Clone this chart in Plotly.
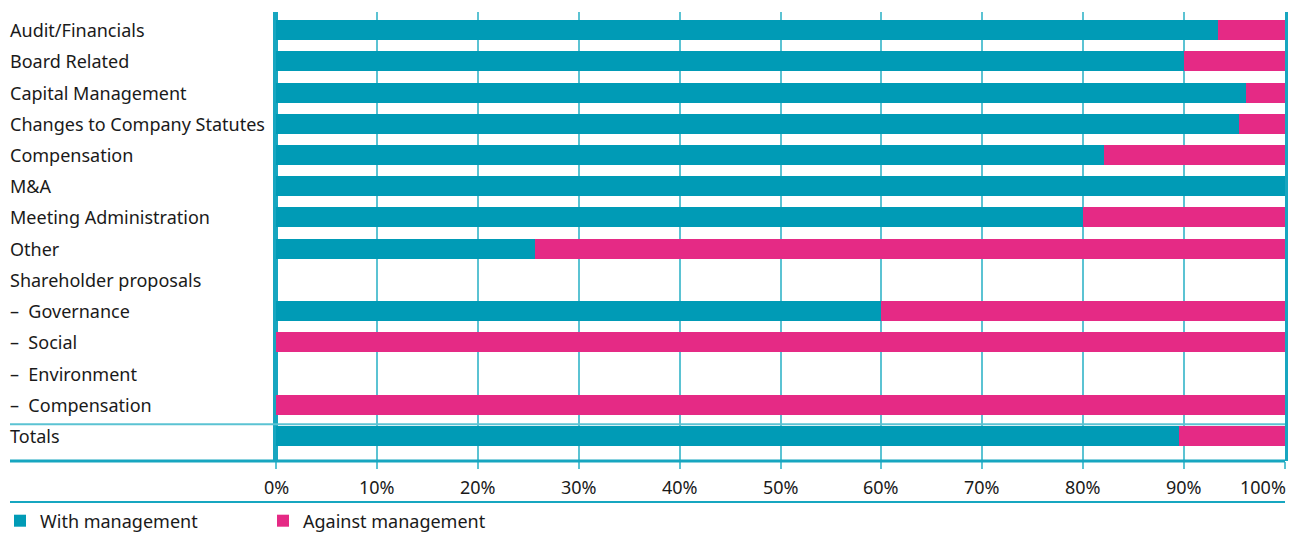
import plotly.graph_objects as go

categories = [
    "Audit/Financials", "Board Related", "Capital Management",
    "Changes to Company Statutes", "Compensation", "M&A",
    "Meeting Administration", "Other", "Shareholder proposals",
    "–  Governance", "–  Social", "–  Environment", "–  Compensation", "Totals",
]
with_mgmt = [93.4, 90.0, 96.1, 95.4, 82.1, 100.0, 80.0, 25.7, None, 60.0, 0.0, None, 0.0, 89.5]
against_mgmt = [6.6, 10.0, 3.9, 4.6, 17.9, 0.0, 20.0, 74.3, None, 40.0, 100.0, None, 100.0, 10.5]
tick_vals = [0, 10, 20, 30, 40, 50, 60, 70, 80, 90, 100]
tick_text = ["0%", "10%", "20%", "30%", "40%", "50%", "60%", "70%", "80%", "90%", "100%"]

TEAL = "#009BB6"
PINK = "#E52A85"
GRID = "#5BC3D3"
AXIS = "#17A6C0"
TXT = "#1a1a1a"
FONT = "Noto Sans"

W, H = 1291, 533
ML, MR, MT, MB = 276, 6, 12, 72
PW = W - ML - MR
PH = H - MT - MB
left_paper = -(ML - 10) / PW

def py(px):
    return -(px - (MT + PH)) / PH

fig = go.Figure()
fig.add_trace(go.Bar(y=categories, x=with_mgmt, orientation="h", name="With management",
                     marker=dict(color=TEAL, line=dict(width=0)), width=0.64))
fig.add_trace(go.Bar(y=categories, x=against_mgmt, orientation="h", name="Against management",
                     marker=dict(color=PINK, line=dict(width=0)), width=0.64))

annotations = []
for c in categories:
    annotations.append(dict(xref="paper", yref="y", x=-(ML - 8) / PW, y=c, text=c,
                            xanchor="left", yanchor="middle", showarrow=False,
                            font=dict(family=FONT, size=18, color=TXT)))
for v, t in zip(tick_vals, tick_text):
    if v == tick_vals[-1]:
        annotations.append(dict(xref="paper", yref="paper", x=1.003, y=py(487), text=t,
                                xanchor="right", yanchor="middle", showarrow=False,
                                font=dict(family=FONT, size=18, color=TXT)))
    else:
        annotations.append(dict(xref="x", yref="paper", x=v, y=py(487), text=t,
                                xanchor="center", yanchor="middle", showarrow=False,
                                font=dict(family=FONT, size=18, color=TXT)))

shapes = [
    dict(type="line", xref="paper", yref="y", x0=left_paper, x1=1, y0=12.62, y1=12.62,
         line=dict(color=GRID, width=2)),
    dict(type="line", xref="paper", yref="paper", x0=left_paper, x1=1, y0=0, y1=0,
         line=dict(color=AXIS, width=3)),
    dict(type="line", xref="paper", yref="paper", x0=left_paper, x1=1,
         y0=py(502), y1=py(502), line=dict(color=AXIS, width=2)),
]

fig.update_layout(
    width=W, height=H,
    margin=dict(l=ML, r=MR, t=MT, b=MB, pad=0, autoexpand=False),
    barmode="stack",
    plot_bgcolor="white", paper_bgcolor="white",
    font=dict(family=FONT, size=18, color=TXT),
    showlegend=True,
    legend=dict(orientation="h", xref="container", yref="container",
                x=-0.0095, xanchor="left",
                y=(H - 521) / H, yanchor="middle",
                entrywidth=218, entrywidthmode="pixels", traceorder="normal",
                font=dict(family=FONT, size=18, color=TXT),
                itemwidth=30, bgcolor="rgba(0,0,0,0)"),
    annotations=annotations,
    shapes=shapes,
    bargap=0.36,
)
fig.update_xaxes(range=[0, 100], tickvals=tick_vals, showticklabels=False,
                 showgrid=True, gridcolor=GRID, gridwidth=2,
                 zeroline=True, zerolinecolor=AXIS, zerolinewidth=3,
                 ticks="outside", ticklen=7, tickcolor=GRID, tickwidth=2,
                 showline=False, fixedrange=True, automargin=False)
fig.update_yaxes(categoryorder="array", categoryarray=categories,
                 range=[13.8, -0.58], showticklabels=False, showgrid=False,
                 zeroline=False, showline=True, linecolor=AXIS, linewidth=3, mirror=True,
                 ticks="", fixedrange=True, automargin=False)

fig.write_html("out.html", config={"displayModeBar": False},
               post_script="document.body.style.margin='0';document.body.style.padding='0';")
